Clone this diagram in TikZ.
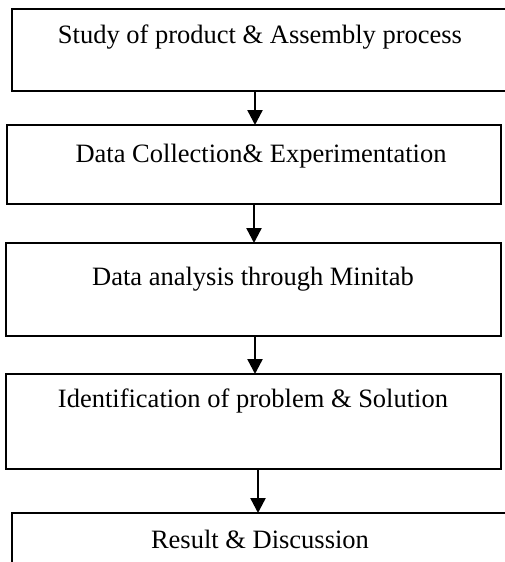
\documentclass[tikz,border=0pt]{standalone}
\usepackage{fontspec}
\setmainfont{Liberation Serif}
\usetikzlibrary{arrows.meta,positioning,calc}
\begin{document}
\begin{tikzpicture}[x=1pt,y=1pt,
  flowbox/.style={draw=black,line width=2.4pt,rectangle,inner sep=0pt,outer sep=0pt},
  boxtext/.style={font=\fontsize{26.5}{30}\selectfont,inner sep=0pt,anchor=base},
  flowarrow/.style={line width=2.4pt,-{Triangle[width=15pt,length=15pt]}}]
\useasboundingbox (0,0) rectangle (504,-562);
\fill[white] (0,0) rectangle (504,-562);
% boxes
\node[flowbox,minimum width=508pt,minimum height=82pt] (b1) at (266,-50) {};
\node[flowbox,minimum width=494pt,minimum height=79pt] (b2) at (254,-164.5) {};
\node[flowbox,minimum width=495pt,minimum height=93pt] (b3) at (253.5,-289.5) {};
\node[flowbox,minimum width=495pt,minimum height=95pt] (b4) at (253.5,-421.5) {};
\node[flowbox,minimum width=508pt,minimum height=62pt] (b5) at (266,-544) {};
% texts
\node[boxtext] (t1) at ([yshift=-34pt,xshift=-6pt]b1.north) {Study of product \& Assembly process};
\node[boxtext] (t2) at ([yshift=-37pt,xshift=7pt]b2.north) {Data Collection\& Experimentation};
\node[boxtext] (t3) at ([yshift=-42pt,xshift=-0.5pt]b3.north) {Data analysis through Minitab};
\node[boxtext] (t4) at ([yshift=-33pt,xshift=-0.5pt]b4.north) {Identification of problem \& Solution};
\node[boxtext] (t5) at ([yshift=-35pt,xshift=-6pt]b5.north) {Result \& Discussion};
% arrows
\draw[flowarrow] ([xshift=-11pt]b1.south) -- ([xshift=-11pt]b1.south |- b2.north);
\draw[flowarrow] (b2.south) -- (b2.south |- b3.north);
\draw[flowarrow] ([xshift=1.5pt]b3.south) -- ([xshift=1.5pt]b3.south |- b4.north);
\draw[flowarrow] ([xshift=4.5pt]b4.south) -- ([xshift=4.5pt]b4.south |- b5.north);
\end{tikzpicture}
\end{document}
